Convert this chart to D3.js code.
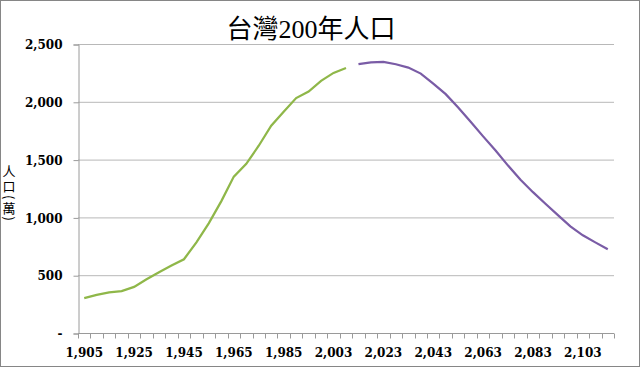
<!DOCTYPE html>
<html lang="zh-Hant">
<head>
<meta charset="utf-8">
<script src="https://d3js.org/d3.v7.min.js"></script>
<style>
  body { margin: 0; background: #fff; }
  .tick-label { font: bold 12px "DejaVu Serif", serif; fill: #000; }
  .title { font: 26px "Liberation Serif", "Noto Sans CJK TC", serif; fill: #000; }
  .ytitle { font: 13px "Noto Sans CJK TC", sans-serif; fill: #000; writing-mode: vertical-rl; letter-spacing: 2px; }
</style>
</head>
<body>
<svg width="640" height="367"></svg>
<script>
// categories: 5-year steps to 2000, then 2003 onward
var years = [1905,1910,1915,1920,1925,1930,1935,1940,1945,1950,
             1955,1960,1965,1970,1975,1980,1985,1990,1995,2000,
             2003,2008,2013,2018,2023,2028,2033,2038,2043,2048,
             2053,2058,2063,2068,2073,2078,2083,2088,2093,2098,
             2103,2108,2113];

// 人口 (萬)
var popHistory = [302,330,351,362,399,465,526,583,638,784,
                  951,1141,1353,1463,1620,1793,1914,2032,2089,2181,
                  2250,2293];
var popProjection = [2325,2342,2345,2325,2296,2244,2158,2066,1951,1828,
                     1701,1578,1448,1325,1218,1118,1020,922,845,784,724];

var yTicks = [0,500,1000,1500,2000,2500];

var svg = d3.select("svg"),
    width = +svg.attr("width"),
    height = +svg.attr("height");

var plotLeft = 78, plotRight = 614, plotTop = 44, plotBottom = 333;

// outer border
svg.append("rect")
    .attr("x", 0.5).attr("y", 0.5)
    .attr("width", width - 1).attr("height", height - 1)
    .attr("fill", "#fff").attr("stroke", "#868686");

var x = d3.scaleBand().domain(years).range([plotLeft, plotRight]).padding(0);
var y = d3.scaleLinear().domain([0, 2500]).range([plotBottom, plotTop]);

var fmt = function(d) { return d === 0 ? "-" : d3.format(",")(d); };

// gridlines
svg.append("g").selectAll("line")
  .data(yTicks.filter(function(d) { return d > 0; }))
  .enter().append("line")
    .attr("x1", plotLeft).attr("x2", plotRight)
    .attr("y1", function(d) { return y(d) + 0.5; })
    .attr("y2", function(d) { return y(d) + 0.5; })
    .attr("stroke", "#b8b8b8");

// y axis
var yAxis = svg.append("g")
    .attr("transform", "translate(" + (plotLeft + 0.5) + ",0.5)")
    .call(d3.axisLeft(y).tickValues(yTicks).tickSize(5).tickPadding(11).tickFormat(fmt));
yAxis.select(".domain").attr("stroke", "#9a9a9a");
yAxis.selectAll(".tick line").attr("stroke", "#9a9a9a");
yAxis.selectAll("text").attr("class", "tick-label").attr("dy", "0.35em");

// x axis: tick marks at category edges, labels every 4th category
var xAxis = svg.append("g").attr("transform", "translate(0," + (plotBottom + 0.5) + ")");
xAxis.append("line")
    .attr("x1", plotLeft).attr("x2", plotRight)
    .attr("stroke", "#9a9a9a");
xAxis.selectAll("line.tk")
  .data(years.concat([null]))
  .enter().append("line")
    .attr("class", "tk")
    .attr("x1", function(d, i) { return Math.round(plotLeft + i * x.bandwidth()) + 0.5; })
    .attr("x2", function(d, i) { return Math.round(plotLeft + i * x.bandwidth()) + 0.5; })
    .attr("y1", 0).attr("y2", 5)
    .attr("stroke", "#9a9a9a");
xAxis.selectAll("text")
  .data(years.filter(function(d, i) { return i % 4 === 0; }))
  .enter().append("text")
    .attr("class", "tick-label")
    .attr("text-anchor", "middle")
    .attr("x", function(d) { return x(d) + x.bandwidth() / 2; })
    .attr("y", 23)
    .text(function(d) { return d3.format(",")(d); });

var line = d3.line()
    .x(function(d) { return x(d.year) + x.bandwidth() / 2; })
    .y(function(d) { return y(d.value); });

var histData = popHistory.map(function(v, i) { return {year: years[i], value: v}; });
var projData = popProjection.map(function(v, i) { return {year: years[popHistory.length + i], value: v}; });

svg.append("path")
    .datum(histData)
    .attr("d", line)
    .attr("fill", "none")
    .attr("stroke", "#8fb749")
    .attr("stroke-width", 2.25);

svg.append("path")
    .datum(projData)
    .attr("d", line)
    .attr("fill", "none")
    .attr("stroke", "#7a5ca6")
    .attr("stroke-width", 2.25);

// title
svg.append("text")
    .attr("class", "title")
    .attr("x", 311).attr("y", 38)
    .attr("text-anchor", "middle")
    .text("台灣200年人口");

// y axis title
svg.append("text")
    .attr("class", "ytitle")
    .attr("x", 9).attr("y", 165)
    .text("人口(萬)");
</script>
</body>
</html>
